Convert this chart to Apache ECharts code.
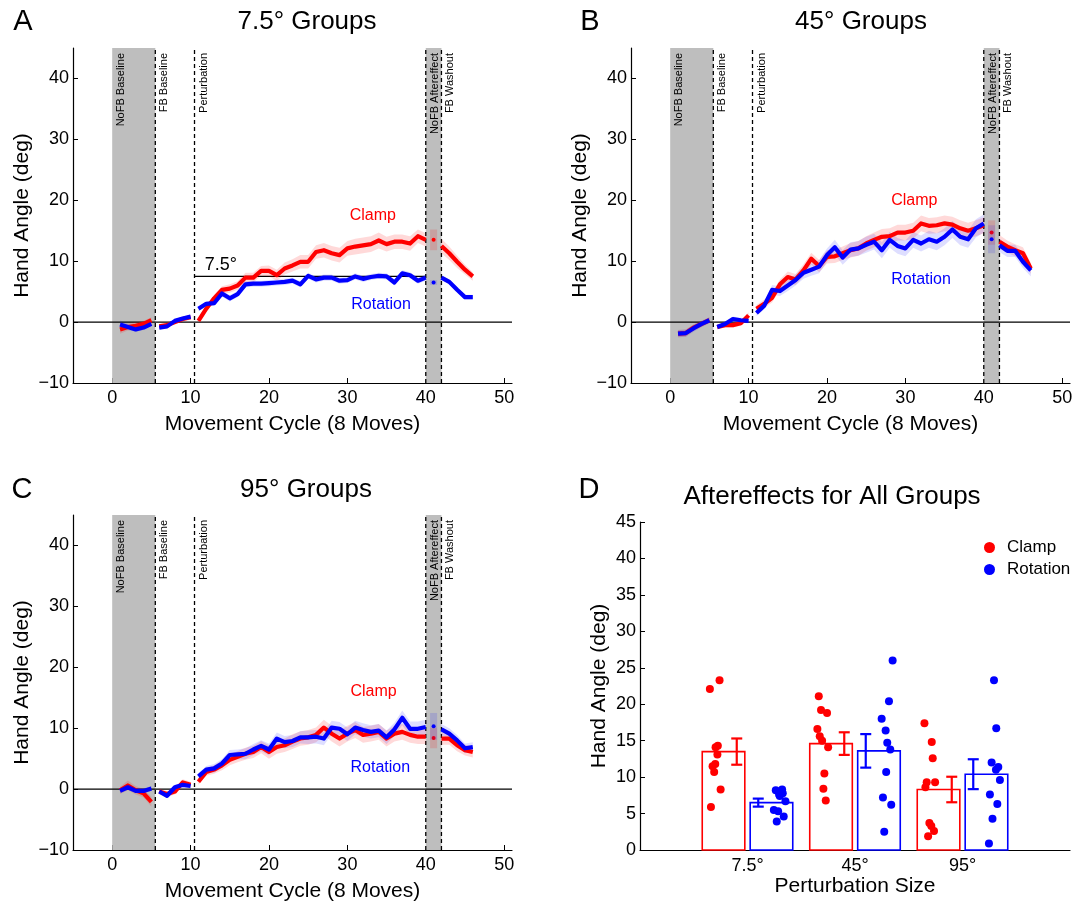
<!DOCTYPE html>
<html><head><meta charset="utf-8">
<script src="https://cdn.jsdelivr.net/npm/echarts@6/dist/echarts.min.js"></script>
<style>html,body{margin:0;padding:0;background:#fff}#c{width:1080px;height:906px}</style>
</head><body><div id="c"></div>
<script>
const FONT = '"Liberation Sans", Arial, Helvetica, sans-serif';

// ---------- DATA ----------
const cycles = [1,2,3,4,5,6,7,8,9,10,11,12,13,14,15,16,17,18,19,20,21,22,23,24,25,26,27,28,29,30,31,32,33,34,35,36,37,38,39,40,41,42,43,44,45,46];
const segments = [[1,5],[6,10],[11,40],[42,46]];
const aftereffectCycle = 41;
const xTicks = [0,10,20,30,40,50];
const yTicks = [-10,0,10,20,30,40];
const shadedPhases = [[0,5.5],[40,42]];
const dashedBounds = [5.5,10.5,40,42];
const phaseLabels = ['NoFB Baseline','FB Baseline','Perturbation','NoFB Aftereffect','FB Washout'];
const phaseLabelAt = [0,5.5,10.5,40,42];

// Panel A (7.5°)
const aClampMean = [-1.2,-0.8,-0.6,-0.3,0.3, -0.7,-0.5,0.0,0.5,0.8, 0.2,2.2,3.9,5.3,5.5,6.0,7.3,7.3,8.4,8.4, 7.7,8.8,9.3,9.9,9.9,11.5,11.8,11.3,11.0,12.1, 12.4,12.6,12.8,13.4,12.8,13.2,13.2,12.9,14.1,13.5, 13.5, 12.5,11.3,9.9,8.6,7.5];
const aClampSE   = [0.7,0.6,0.6,0.5,0.5, 0.4,0.4,0.4,0.4,0.4, 0.4,0.5,0.6,0.6,0.7,0.7,0.8,0.8,0.8,0.9, 0.9,1.0,1.0,1.1,1.1,1.1,1.2,1.2,1.2,1.2, 1.3,1.3,1.3,1.3,1.2,1.2,1.2,1.2,1.1,1.1, 1.7, 1.2,1.1,1.0,0.8,0.7];
const aRotMean   = [-0.4,-0.8,-1.2,-0.9,-0.3, -0.9,-0.7,0.2,0.6,0.9, 2.2,3.0,3.1,4.7,3.9,4.6,6.2,6.3,6.3,6.4, 6.5,6.6,6.8,6.2,7.6,7.0,7.3,7.3,6.8,6.9, 7.5,7.1,7.4,7.6,7.5,6.5,8.0,7.7,6.8,7.3, 6.5, 7.3,6.6,5.3,4.1,4.1];
const aRotSE     = [0.7,0.5,0.4,0.4,0.4, 0.3,0.3,0.3,0.3,0.3, 0.4,0.4,0.4,0.5,0.5,0.5,0.5,0.5,0.5,0.5, 0.5,0.5,0.5,0.5,0.5,0.5,0.5,0.5,0.5,0.5, 0.5,0.5,0.5,0.5,0.5,0.5,0.5,0.5,0.5,0.5, 0.4, 0.4,0.4,0.4,0.4,0.4];
// Panel B (45°)
const bClampMean = [-1.9,-1.8,-0.9,-0.3,0.3, -0.8,-0.5,-0.5,-0.2,1.1, 2.2,3.0,4.0,6.2,7.4,7.0,8.5,10.4,9.2,10.7, 10.8,11.3,11.8,12.1,12.9,13.5,14.0,14.1,14.7,14.7, 15.0,16.2,15.8,15.9,16.2,16.0,15.4,15.0,15.4,15.9, 14.7, 13.2,12.4,11.8,11.3,8.8];
const bClampSE   = [0.6,0.6,0.5,0.5,0.5, 0.4,0.4,0.4,0.4,0.5, 0.6,0.7,0.8,0.8,0.9,0.9,1.0,1.0,1.0,1.1, 1.1,1.1,1.2,1.2,1.2,1.2,1.3,1.3,1.3,1.3, 1.3,1.3,1.3,1.3,1.3,1.3,1.3,1.3,1.3,1.3, 2.0, 1.1,1.0,1.0,1.0,0.9];
const bRotMean   = [-1.9,-1.8,-1.0,-0.3,0.3, -0.8,-0.3,0.5,0.3,0.2, 1.5,2.7,5.3,5.1,6.0,6.9,8.1,8.6,9.1,11.0, 12.3,10.6,11.9,12.1,12.7,13.2,11.8,13.5,12.5,12.1, 13.5,12.9,13.6,13.2,14.0,15.2,14.0,13.6,15.4,16.2, 13.6, 12.6,11.7,11.7,9.9,8.5];
const bRotSE     = [0.6,0.6,0.6,0.5,0.5, 0.4,0.4,0.4,0.4,0.4, 0.5,0.6,0.8,0.8,0.9,0.9,1.0,1.0,1.1,1.1, 1.2,1.2,1.2,1.2,1.3,1.3,1.3,1.3,1.3,1.3, 1.3,1.3,1.4,1.4,1.4,1.4,1.4,1.4,1.5,1.5, 2.3, 1.1,1.0,1.0,1.0,1.0];
// Panel C (95°)
const cClampMean = [-0.2,0.6,-0.2,-0.7,-2.1, -0.4,-0.8,-0.4,1.1,0.7, 1.2,2.8,3.2,3.9,4.8,5.3,5.8,6.1,6.9,6.1, 6.9,7.2,7.8,8.3,8.5,8.9,10.1,9.1,8.3,9.1, 9.7,8.9,9.1,9.4,8.3,9.1,9.4,8.9,8.6,8.6, 8.4, 8.3,8.3,7.2,6.4,6.1];
const cClampSE   = [0.6,0.8,0.7,0.7,0.8, 0.5,0.5,0.5,0.5,0.5, 0.5,0.6,0.7,0.8,0.9,0.9,1.0,1.0,1.0,1.1, 1.1,1.1,1.2,1.2,1.2,1.2,1.3,1.3,1.3,1.3, 1.3,1.3,1.3,1.3,1.3,1.3,1.3,1.3,1.2,1.2, 1.7, 1.0,1.0,1.0,0.9,0.9];
const cRotMean   = [-0.3,0.3,-0.3,-0.3,0.1, -0.4,-1.1,0.3,0.7,0.5, 2.1,3.2,3.4,4.2,5.6,5.7,5.8,6.5,7.1,6.5, 8.3,7.7,7.9,8.5,8.5,8.6,8.3,10.1,9.9,9.0, 10.1,9.7,9.4,9.6,8.5,9.8,11.7,9.9,9.9,10.2, 10.3, 9.8,9.1,8.0,6.7,6.9];
const cRotSE     = [0.4,0.4,0.4,0.4,0.4, 0.4,0.4,0.4,0.4,0.4, 0.5,0.6,0.7,0.7,0.8,0.8,0.9,0.9,0.9,1.0, 1.0,1.0,1.0,1.0,1.1,1.1,1.1,1.1,1.1,1.1, 1.1,1.1,1.1,1.1,1.1,1.1,1.2,1.2,1.2,1.2, 2.2, 0.9,0.9,0.9,0.8,0.8];

// Panel D (aftereffects)
const groupLabels = ['7.5°','45°','95°'];
const groupPos = [1,2,3];
const dTicks = [0,5,10,15,20,25,30,35,40,45];
const clampBarMean = [13.5,14.6,8.3];
const clampBarSE   = [1.8,1.55,1.75];
const rotBarMean   = [6.5,13.6,10.4];
const rotBarSE     = [0.55,2.3,2.05];
const clampDots = [
  [22.1,23.3,14.3,14.1,13.1,11.8,11.5,10.7,8.3,5.9],
  [21.1,19.2,18.8,16.6,15.6,15.0,14.1,10.5,8.4,6.8],
  [17.4,14.8,12.6,9.3,9.3,8.6,3.7,3.3,2.6,1.9]
];
const clampJitter = [
  [-0.35,-0.26,-0.276,-0.297,-0.28,-0.30,-0.325,-0.31,-0.25,-0.34],
  [-0.337,-0.316,-0.26,-0.35,-0.328,-0.306,-0.25,-0.285,-0.294,-0.272],
  [-0.354,-0.286,-0.277,-0.333,-0.255,-0.345,-0.308,-0.29,-0.265,-0.32]
];
const rotDots = [
  [8.2,8.3,7.8,7.4,6.7,5.5,5.3,4.6,3.9,7.6],
  [26.0,20.4,18.0,16.4,14.7,13.8,10.7,7.2,6.2,2.5],
  [23.3,16.7,12.0,11.4,11.0,9.6,7.6,6.3,4.3,0.9]
];
const rotJitter = [
  [0.263,0.322,0.328,0.30,0.353,0.245,0.285,0.337,0.272,0.294],
  [0.35,0.316,0.248,0.285,0.30,0.328,0.29,0.26,0.337,0.272],
  [0.293,0.314,0.271,0.333,0.311,0.348,0.255,0.324,0.279,0.246]
];

// ---------- STYLE / LAYOUT ----------
const RED = '#ff0000', BLUE = '#0000ff';
const RED_BAND = 'rgba(255,0,0,0.15)', BLUE_BAND = 'rgba(0,0,255,0.13)';
const SHADE = '#bebebe';

const panels = [
  { grid: {left:73, top:48, width:439, height:335}, clamp:[aClampMean,aClampSE], rot:[aRotMean,aRotSE],
    clampLbl:[30.3,17.5], rotLbl:[30.5,2.9], ref:true },
  { grid: {left:631, top:48, width:439, height:335}, clamp:[bClampMean,bClampSE], rot:[bRotMean,bRotSE],
    clampLbl:[28.2,20.0], rotLbl:[28.2,7.0], ref:false },
  { grid: {left:73, top:515, width:439, height:335}, clamp:[cClampMean,cClampSE], rot:[cRotMean,cRotSE],
    clampLbl:[30.4,16.0], rotLbl:[30.4,3.45], ref:false }
];

const minus = v => (v < 0 ? '\u2212' + (-v) : String(v));
const grids = [], xAxes = [], yAxes = [], series = [];

panels.forEach((p, gi) => {
  grids.push(p.grid);
  xAxes.push({
    type:'value', gridIndex:gi, min:-5, max:51,
    axisLine:{onZero:false, lineStyle:{color:'#000', width:1.2}},
    axisTick:{inside:true, length:5, customValues:xTicks, lineStyle:{color:'#000', width:1}},
    axisLabel:{customValues:xTicks, fontSize:18, color:'#000', fontFamily:FONT, margin:6},
    splitLine:{show:false},
    name:'Movement Cycle (8 Moves)', nameLocation:'middle', nameGap:31,
    nameTextStyle:{fontSize:21, color:'#000', fontFamily:FONT}
  });
  yAxes.push({
    type:'value', gridIndex:gi, min:-10, max:45,
    axisLine:{onZero:false, lineStyle:{color:'#000', width:1.2}},
    axisTick:{inside:true, length:5, customValues:yTicks, lineStyle:{color:'#000', width:1}},
    axisLabel:{customValues:yTicks, fontSize:18, color:'#000', fontFamily:FONT, margin:4, formatter:minus},
    splitLine:{show:false},
    name:'Hand Angle (deg)', nameLocation:'middle', nameGap:40,
    nameTextStyle:{fontSize:21, color:'#000', fontFamily:FONT}
  });

  // annotations: shades, dashed bounds, zero line, phase labels, group labels, reference line
  const items = [];
  shadedPhases.forEach(s => items.push({k:'shade', a:s[0], b:s[1]}));
  items.push({k:'zero'});
  dashedBounds.forEach(x => items.push({k:'dash', x}));
  phaseLabels.forEach((t, i) => items.push({k:'plabel', x:phaseLabelAt[i], t}));
  items.push({k:'glabel', x:p.clampLbl[0], y:p.clampLbl[1], t:'Clamp', c:RED});
  items.push({k:'glabel', x:p.rotLbl[0], y:p.rotLbl[1], t:'Rotation', c:BLUE});
  if (p.ref) { items.push({k:'ref'}); }

  series.push({
    type:'custom', xAxisIndex:gi, yAxisIndex:gi, z:1, silent:true, animation:false,
    data: items.map((_, i) => [i, 0]),
    renderItem(params, api) {
      const it = items[params.dataIndex];
      if (it.k === 'shade') {
        const p0 = api.coord([it.a, 45]), p1 = api.coord([it.b, -10]);
        return {type:'rect', shape:{x:p0[0], y:p0[1], width:p1[0]-p0[0], height:p1[1]-p0[1]}, style:{fill:SHADE}};
      }
      if (it.k === 'zero') {
        const p0 = api.coord([-5, 0]), p1 = api.coord([51, 0]);
        return {type:'line', shape:{x1:p0[0], y1:p0[1], x2:p1[0], y2:p1[1]}, style:{stroke:'#000', lineWidth:1.2}};
      }
      if (it.k === 'dash') {
        const p0 = api.coord([it.x, -10]), p1 = api.coord([it.x, 45]);
        return {type:'line', shape:{x1:p0[0], y1:p0[1], x2:p1[0], y2:p1[1]}, style:{stroke:'#000', lineWidth:1.3, lineDash:[4,3]}};
      }
      if (it.k === 'plabel') {
        const p0 = api.coord([it.x, 45]);
        return {type:'text', x:p0[0] + 9, y:p0[1] + 5, rotation:Math.PI/2,
          style:{text:it.t, fill:'#000', fontSize:11, fontFamily:FONT, align:'right', verticalAlign:'middle'}};
      }
      if (it.k === 'glabel') {
        const p0 = api.coord([it.x, it.y]);
        return {type:'text', x:p0[0], y:p0[1],
          style:{text:it.t, fill:it.c, fontSize:16, fontFamily:FONT, align:'left', verticalAlign:'middle'}};
      }
      if (it.k === 'ref') {
        const p0 = api.coord([10.5, 7.5]), p1 = api.coord([40, 7.5]), pt = api.coord([11.8, 7.5]);
        return {type:'group', children:[
          {type:'line', shape:{x1:p0[0], y1:p0[1], x2:p1[0], y2:p1[1]}, style:{stroke:'#000', lineWidth:1.3}, z2:50},
          {type:'text', x:pt[0], y:pt[1] - 2, style:{text:'7.5°', fill:'#000', fontSize:18, fontFamily:FONT, align:'left', verticalAlign:'bottom'}}
        ]};
      }
      return null;
    }
  });

  const groups = [[p.clamp, RED, RED_BAND], [p.rot, BLUE, BLUE_BAND]];
  // bands
  groups.forEach(([ms, col, band], k) => {
    const [mean, se] = ms;
    series.push({
      type:'custom', xAxisIndex:gi, yAxisIndex:gi, z:2 + k*0.1, silent:true, animation:false,
      data: segments.map((_, i) => [i, 0]),
      renderItem(params, api) {
        const [s0, s1] = segments[params.dataIndex];
        const up = [], lo = [];
        cycles.forEach((c, j) => {
          if (c < s0 || c > s1) return;
          up.push(api.coord([c, mean[j] + se[j]]));
          lo.push(api.coord([c, mean[j] - se[j]]));
        });
        return {type:'polygon', shape:{points: up.concat(lo.reverse())}, style:{fill:band}};
      }
    });
  });
  // lines + aftereffect markers
  groups.forEach(([ms, col, band], k) => {
    const [mean, se] = ms;
    series.push({
      type:'custom', xAxisIndex:gi, yAxisIndex:gi, z:3 + k, silent:true, animation:false,
      data: segments.map((_, i) => [i, 0]),
      renderItem(params, api) {
        const [s0, s1] = segments[params.dataIndex];
        const pts = [];
        cycles.forEach((c, j) => { if (c >= s0 && c <= s1) pts.push(api.coord([c, mean[j]])); });
        return {type:'polyline', shape:{points:pts}, style:{stroke:col, lineWidth:4.2, fill:null, lineJoin:'round'}};
      }
    });
    const ai = cycles.indexOf(aftereffectCycle);
    series.push({
      type:'custom', xAxisIndex:gi, yAxisIndex:gi, z:3 + k, silent:true, animation:false,
      data: [[aftereffectCycle, mean[ai]]],
      renderItem(params, api) {
        const p0 = api.coord([aftereffectCycle - 0.45, mean[ai] + se[ai]]);
        const p1 = api.coord([aftereffectCycle + 0.45, mean[ai] - se[ai]]);
        const pc = api.coord([aftereffectCycle, mean[ai]]);
        return {type:'group', children:[
          {type:'rect', shape:{x:p0[0], y:p0[1], width:p1[0]-p0[0], height:p1[1]-p0[1]}, style:{fill:band}},
          {type:'circle', shape:{cx:pc[0], cy:pc[1], r:2}, style:{fill:col}}
        ]};
      }
    });
  });
});

// ---------- Panel D ----------
const gD = 3;
grids.push({left:640, top:522, width:430, height:328});
xAxes.push({
  type:'value', gridIndex:gD, min:0, max:4,
  axisLine:{onZero:false, lineStyle:{color:'#000', width:1.2}},
  axisTick:{show:false},
  axisLabel:{customValues:groupPos, fontSize:18, color:'#000', fontFamily:FONT, margin:7,
    formatter: v => groupLabels[groupPos.indexOf(v)] || ''},
  splitLine:{show:false},
  name:'Perturbation Size', nameLocation:'middle', nameGap:25,
  nameTextStyle:{fontSize:21, color:'#000', fontFamily:FONT}
});
yAxes.push({
  type:'value', gridIndex:gD, min:0, max:45,
  axisLine:{onZero:false, lineStyle:{color:'#000', width:1.2}},
  axisTick:{inside:true, length:5, customValues:dTicks, lineStyle:{color:'#000', width:1}},
  axisLabel:{customValues:dTicks, fontSize:18, color:'#000', fontFamily:FONT, margin:4},
  splitLine:{show:false},
  name:'Hand Angle (deg)', nameLocation:'middle', nameGap:30,
  nameTextStyle:{fontSize:21, color:'#000', fontFamily:FONT}
});

const barItems = [];
groupPos.forEach((g, i) => {
  barItems.push({g, off:-1, m:clampBarMean[i], se:clampBarSE[i], c:RED});
  barItems.push({g, off:1, m:rotBarMean[i], se:rotBarSE[i], c:BLUE});
});
series.push({
  type:'custom', xAxisIndex:gD, yAxisIndex:gD, z:2, silent:true, animation:false,
  data: barItems.map(b => [b.g, b.m]),
  renderItem(params, api) {
    const b = barItems[params.dataIndex];
    const cx = b.g + b.off * 0.223;
    const p0 = api.coord([cx - 0.198, b.m]), p1 = api.coord([cx + 0.198, 0]);
    const ex = b.g + b.off * 0.1;
    const t = api.coord([ex, b.m + b.se]), bt = api.coord([ex, b.m - b.se]);
    const cap = 5.5;
    return {type:'group', children:[
      {type:'rect', shape:{x:p0[0], y:p0[1], width:p1[0]-p0[0], height:p1[1]-p0[1]}, style:{fill:'#fff', stroke:b.c, lineWidth:1.6}},
      {type:'line', shape:{x1:t[0], y1:t[1], x2:bt[0], y2:bt[1]}, style:{stroke:b.c, lineWidth:2.2}},
      {type:'line', shape:{x1:t[0]-cap, y1:t[1], x2:t[0]+cap, y2:t[1]}, style:{stroke:b.c, lineWidth:2.2}},
      {type:'line', shape:{x1:bt[0]-cap, y1:bt[1], x2:bt[0]+cap, y2:bt[1]}, style:{stroke:b.c, lineWidth:2.2}}
    ]};
  }
});
const clampPts = [], rotPts = [];
groupPos.forEach((g, i) => {
  clampDots[i].forEach((v, j) => clampPts.push([g + clampJitter[i][j], v]));
  rotDots[i].forEach((v, j) => rotPts.push([g + rotJitter[i][j], v]));
});
series.push({name:'Clamp', type:'scatter', xAxisIndex:gD, yAxisIndex:gD, z:5, symbol:'circle', symbolSize:8,
  itemStyle:{color:RED, opacity:1}, data:clampPts, silent:true, animation:false});
series.push({name:'Rotation', type:'scatter', xAxisIndex:gD, yAxisIndex:gD, z:5, symbol:'circle', symbolSize:8,
  itemStyle:{color:BLUE, opacity:1}, data:rotPts, silent:true, animation:false});

// ---------- texts ----------
const txt = (x, y, text, size) => ({type:'text', x, y, silent:true,
  style:{text, fontSize:size, fontFamily:FONT, fill:'#000', align:'center', verticalAlign:'middle'}});
const graphics = [
  txt(23, 22, 'A', 29), txt(590, 22, 'B', 29), txt(22, 490, 'C', 29), txt(589, 490, 'D', 29),
  txt(307, 22, '7.5° Groups', 26), txt(861, 22, '45° Groups', 26),
  txt(306, 490, '95° Groups', 26), txt(832, 497, 'Aftereffects for All Groups', 26)
];

const chart = echarts.init(document.getElementById('c'), null, {renderer:'canvas'});
chart.setOption({
  backgroundColor:'#fff',
  animation:false,
  grid: grids, xAxis: xAxes, yAxis: yAxes, series,
  legend: {data:['Clamp','Rotation'], orient:'vertical', left:979, top:534, icon:'circle',
    itemWidth:11, itemHeight:11, itemGap:5, selectedMode:false,
    textStyle:{fontSize:17, color:'#000', fontFamily:FONT, padding:[0,0,0,7]}},
  graphic: graphics
});
</script></body></html>
